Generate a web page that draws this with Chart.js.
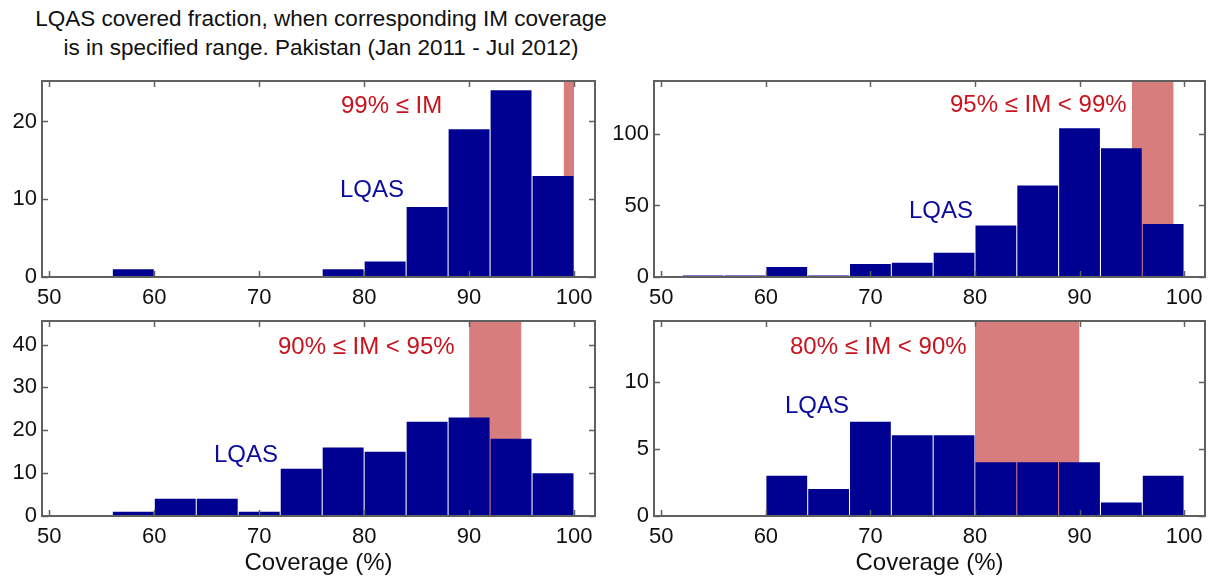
<!DOCTYPE html>
<html>
<head>
<meta charset="utf-8">
<script src="https://cdn.jsdelivr.net/npm/chart.js@4.4.0/dist/chart.umd.min.js"></script>
<style>
  body { margin: 0; background: #fff; width: 1211px; height: 578px; position: relative; overflow: hidden;
         font-family: "Liberation Sans", Arial, sans-serif; }
  .title { position: absolute; left: 0; top: 4px; width: 642px; text-align: center;
           font-size: 22.5px; line-height: 29px; color: #111; }
  .box { position: absolute; }
</style>
</head>
<body>
<div class="title">LQAS covered fraction, when corresponding IM coverage<br>is in specified range. Pakistan (Jan 2011 - Jul 2012)</div>
<div class="box" style="left:0;top:76px;width:605px;height:236px"><canvas id="c1"></canvas></div>
<div class="box" style="left:612px;top:76px;width:599px;height:236px"><canvas id="c2"></canvas></div>
<div class="box" style="left:0;top:316px;width:605px;height:262px"><canvas id="c3"></canvas></div>
<div class="box" style="left:612px;top:316px;width:599px;height:262px"><canvas id="c4"></canvas></div>
<script>
// histogram bins (4% wide), centres
const binCenters = [54, 58, 62, 66, 70, 74, 78, 82, 86, 90, 94, 98];

// LQAS counts per bin, one list per IM range
const countsIM99 = [0, 1, 0, 0, 0, 0, 1, 2, 9, 19, 24, 13];
const countsIM95 = [1, 1, 7, 1, 9, 10, 17, 36, 64, 104, 90, 37];
const countsIM90 = [0, 1, 4, 4, 1, 11, 16, 15, 22, 23, 18, 10];
const countsIM80 = [0, 0, 3, 2, 7, 6, 6, 4, 4, 4, 1, 3];

// IM coverage ranges (shaded)
const rangeIM99 = [99, 100];
const rangeIM95 = [95, 99];
const rangeIM90 = [90, 95];
const rangeIM80 = [80, 90];

const xTicks = [50, 60, 70, 80, 90, 100];
const yTicksIM99 = [0, 10, 20];
const yTicksIM95 = [0, 50, 100];
const yTicksIM90 = [0, 10, 20, 30, 40];
const yTicksIM80 = [0, 5, 10];

const BAR_BLUE = '#000091';
const PINK = '#d77d7d';
const RED_TXT = '#c8141e';
const BLUE_TXT = '#0c0c9c';
const FONT = '"Liberation Sans", Arial, sans-serif';

const framePlugin = {
    id: 'frame',
    afterDatasetsDraw(chart) {
        const ctx = chart.ctx;
        const a = chart.chartArea;
        const xs = chart.scales.x;
        const ys = chart.scales.y;
        ctx.save();
        ctx.strokeStyle = '#606060';
        ctx.lineWidth = 1.5;
        ctx.beginPath();
        xs.ticks.forEach(t => {
            const px = Math.round(xs.getPixelForValue(t.value)) + 0.5;
            ctx.moveTo(px, a.bottom); ctx.lineTo(px, a.bottom - 6);
            ctx.moveTo(px, a.top); ctx.lineTo(px, a.top + 6);
        });
        ys.ticks.forEach(t => {
            const py = Math.round(ys.getPixelForValue(t.value)) + 0.5;
            ctx.moveTo(a.left, py); ctx.lineTo(a.left + 6, py);
            ctx.moveTo(a.right, py); ctx.lineTo(a.right - 6, py);
        });
        ctx.stroke();
        ctx.lineWidth = 2;
        ctx.strokeRect(a.left, a.top, a.right - a.left, a.bottom - a.top);
        ctx.restore();
    },
    afterDraw(chart) {
        const notes = chart.options.plugins.frame;
        const ctx = chart.ctx;
        const a = chart.chartArea;
        ctx.save();
        ctx.font = '24px ' + FONT;
        ctx.textBaseline = 'middle';
        ctx.textAlign = 'left';
        ctx.fillStyle = RED_TXT;
        ctx.fillText(notes.rangeText, a.left + notes.rangeAt[0], a.top + notes.rangeAt[1]);
        ctx.fillStyle = BLUE_TXT;
        ctx.fillText('LQAS', a.left + notes.lqasAt[0], a.top + notes.lqasAt[1]);
        ctx.restore();
    }
};

function makePanel(id, counts, range, yMax, yTicks, rangeText, rangeAt, lqasAt, withTitle, padRight) {
    const ctx = document.getElementById(id).getContext('2d');
    return new Chart(ctx, {
        type: 'bar',
        data: {
            datasets: [
                {
                    type: 'bar',
                    data: binCenters.map((c, i) => ({ x: c, y: counts[i] })),
                    backgroundColor: BAR_BLUE,
                    borderWidth: 0,
                    barPercentage: 0.975,
                    categoryPercentage: 1,
                    order: 1
                },
                {
                    type: 'line',
                    data: [{ x: range[0], y: yMax }, { x: range[1], y: yMax }],
                    backgroundColor: PINK,
                    borderWidth: 0,
                    pointRadius: 0,
                    fill: 'origin',
                    order: 2
                }
            ]
        },
        options: {
            responsive: true,
            maintainAspectRatio: false,
            animation: false,
            layout: { padding: { top: 5, right: padRight, left: 0, bottom: withTitle ? 0 : 5 } },
            plugins: {
                legend: { display: false },
                tooltip: { enabled: false },
                frame: { rangeText: rangeText, rangeAt: rangeAt, lqasAt: lqasAt }
            },
            scales: {
                x: {
                    type: 'linear',
                    min: 49.3,
                    max: 102,
                    offset: false,
                    grid: { display: false, drawTicks: false, offset: false },
                    border: { display: false },
                    afterBuildTicks: s => { s.ticks = xTicks.map(v => ({ value: v })); },
                    afterFit: s => {
                        s.height = withTitle ? 62 : 30;
                        s.paddingLeft = 0;
                        s.paddingRight = 0;
                    },
                    ticks: { color: '#111', font: { size: 22, family: FONT }, padding: 8, maxRotation: 0 },
                    title: {
                        display: withTitle,
                        text: 'Coverage (%)',
                        color: '#111',
                        font: { size: 24, family: FONT },
                        padding: 0
                    }
                },
                y: {
                    min: 0,
                    max: yMax,
                    grid: { display: false, drawTicks: false },
                    border: { display: false },
                    afterBuildTicks: s => { s.ticks = yTicks.map(v => ({ value: v })); },
                    afterFit: s => {
                        s.width = 42;
                        s.paddingTop = 0;
                        s.paddingBottom = 0;
                    },
                    ticks: { color: '#111', font: { size: 22, family: FONT }, padding: 5 }
                }
            }
        },
        plugins: [framePlugin]
    });
}

const c1 = makePanel('c1', countsIM99, rangeIM99, 25.2, yTicksIM99, '99% \u2264 IM', [299, 25], [298, 109], false, 10);
const c2 = makePanel('c2', countsIM95, rangeIM95, 137, yTicksIM95, '95% \u2264 IM < 99%', [296, 24], [255, 130], false, 6);
const c3 = makePanel('c3', countsIM90, rangeIM90, 45.5, yTicksIM90, '90% \u2264 IM < 95%', [236, 26], [172, 134], true, 10);
const c4 = makePanel('c4', countsIM80, rangeIM80, 14.5, yTicksIM80, '80% \u2264 IM < 90%', [136, 26], [131, 85], true, 6);
</script>
</body>
</html>
